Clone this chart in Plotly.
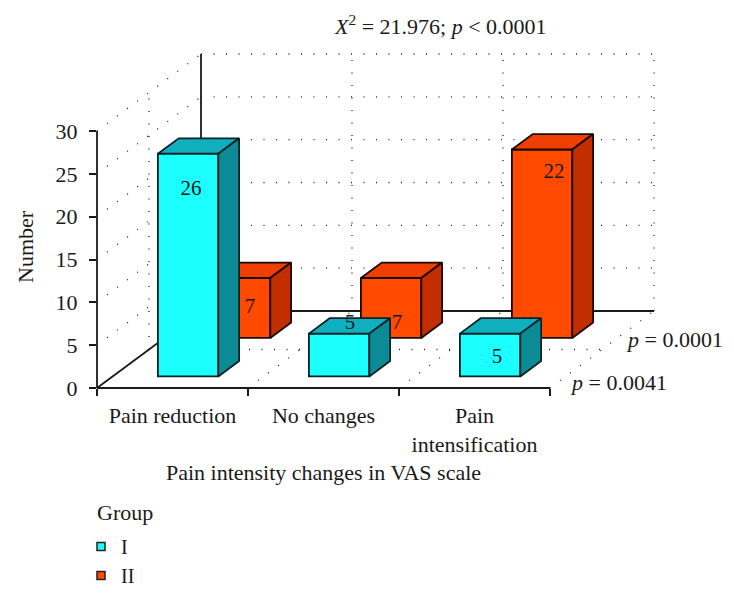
import plotly.graph_objects as go

# ---- data ----
categories = ["Pain reduction", "No changes", "Pain<br>intensification"]
group_names = ["I", "II"]
group_I = [26, 5, 5]
group_II = [7, 7, 22]
y_ticks = [0, 5, 10, 15, 20, 25, 30]
depth_labels = ["<i>p</i> = 0.0041", "<i>p</i> = 0.0001"]
x_title = "Pain intensity changes in VAS scale"
y_title = "Number"
legend_title = "Group"
stat_title = "<i>X</i><sup>2</sup> = 21.976; <i>p</i> &lt; 0.0001"

# ---- page / projection geometry ----
W, H = 734, 594
PX0, PX3 = 97.0, 550.0      # category axis ends in px
PY0, PY30 = 388.0, 131.0    # value axis ends in px
UX = (PX3 - PX0) / 3
UY = (PY0 - PY30) / 30
DX = 104.0 / UX             # whole depth in category units
DY = 77.0 / UY              # whole depth in value units
BAR_W = 0.4
SLOTS = [0.15, 0.65]        # where each group starts in depth
SLOT_D = 0.2
FONT = "Liberation Serif"
FS = 22
INK = "#1a1a1a"
EDGE_W = 1.8

STYLES = [
    dict(front="#1BFFFF", top="#10AFBE", side="#0B8B96", edge="#0c2226"),
    dict(front="#FF4A00", top="#EE3E00", side="#C22E00", edge="#1a0a04"),
]
# label nudges, px from the bottom centre of each front face
NUDGES = [[(3, 187), (11, 53), (7, 19)], [(10, 30), (6, 14), (12, 165)]]

fig = go.Figure()

# invisible carrier that keeps the real category/value axes on the page
fig.add_trace(go.Scatter(x=[0, 3], y=[0, 30], mode="markers", marker=dict(opacity=0),
                         showlegend=False, hoverinfo="skip"))


def line(xs, ys, dotted=True):
    fig.add_trace(go.Scatter(
        x=xs, y=ys, mode="lines", xaxis="x2", yaxis="y2", showlegend=False, hoverinfo="skip",
        line=dict(color="#222222" if dotted else INK, width=1.3 if dotted else 1.8,
                  dash="1px,11.5px" if dotted else "solid"),
    ))


# walls and floor
for v in y_ticks[1:]:
    line([DX, 3 + DX], [DY + v, DY + v])
    line([0, DX], [v, DY + v])
for k in (1, 2, 3):
    line([k + DX, k + DX], [DY, DY + 30])
for k in (1, 2, 3):
    line([k, k + DX], [0, DY])
line([0.5 * DX, 0.5 * DX], [0.5 * DY, 30 + 0.5 * DY])
line([0.5 * DX, 3 + 0.5 * DX], [0.5 * DY, 0.5 * DY])
line([DX, DX], [DY, DY + 30], dotted=False)
line([DX, 3 + DX], [DY, DY], dotted=False)
line([0, DX], [0, DY], dotted=False)
line([0, 3], [0, 0], dotted=False)
line([0, 0], [0, 30], dotted=False)


def polygon(xs, ys, fill, edge, z):
    fig.add_trace(go.Scatter(
        x=xs, y=ys, mode="lines", fill="toself", fillcolor=fill, xaxis="x2", yaxis="y2",
        line=dict(color=edge, width=EDGE_W), showlegend=False, hoverinfo="skip", zorder=z,
    ))


series = [group_I, group_II]
for g in (1, 0):
    st = STYLES[g]
    z = 2 - g
    d0 = SLOTS[g]
    sx0, sy0 = d0 * DX, d0 * DY
    ddx, ddy = SLOT_D * DX, SLOT_D * DY
    fig.add_trace(go.Bar(
        x=[i + 0.5 + sx0 for i in range(3)], y=series[g], base=[sy0] * 3, width=BAR_W,
        marker=dict(color=st["front"], line=dict(color=st["edge"], width=EDGE_W)),
        xaxis="x2", yaxis="y2", showlegend=False, zorder=z, name=group_names[g],
    ))
    for i, v in enumerate(series[g]):
        left = i + 0.5 - BAR_W / 2 + sx0
        right = left + BAR_W
        bot = sy0
        top = sy0 + v
        polygon([left, right, right + ddx, left + ddx, left],
                [top, top, top + ddy, top + ddy, top], st["top"], st["edge"], z)
        polygon([right, right + ddx, right + ddx, right, right],
                [bot, bot + ddy, top + ddy, top, bot], st["side"], st["edge"], z)
    fig.add_trace(go.Scatter(
        x=[i + 0.5 + sx0 + NUDGES[g][i][0] / UX for i in range(3)],
        y=[sy0 + NUDGES[g][i][1] / UY for i in range(3)],
        text=[str(v) for v in series[g]], mode="text", xaxis="x2", yaxis="y2",
        textfont=dict(family=FONT, size=21, color=INK), showlegend=False, hoverinfo="skip", zorder=3,
    ))

# legend entries
for g in (0, 1):
    fig.add_trace(go.Scatter(
        x=[None], y=[None], mode="markers", name=group_names[g], legendgroup=group_names[g],
        xaxis="x2", yaxis="y2",
        marker=dict(symbol="square", size=8, color=STYLES[g]["front"], line=dict(color="#222222", width=1.5)),
    ))

annotations = [
    dict(text=stat_title, x=332 / W, y=1 - 25 / H, xanchor="left"),
    dict(text=depth_labels[0], x=568 / W, y=1 - 382 / H, xanchor="left"),
    dict(text=depth_labels[1], x=624 / W, y=1 - 339 / H, xanchor="left"),
    dict(text=y_title, x=25 / W, y=1 - 247 / H, textangle=-90, xanchor="center"),
    dict(text=legend_title, x=95 / W, y=1 - 512 / H, xanchor="left"),
]
for a in annotations:
    a.update(xref="paper", yref="paper", yanchor="middle", showarrow=False,
             font=dict(family=FONT, size=FS, color=INK))

fig.update_layout(
    width=W, height=H, autosize=False, margin=dict(l=0, r=0, t=0, b=0, autoexpand=False),
    paper_bgcolor="white", plot_bgcolor="rgba(0,0,0,0)", barmode="overlay",
    font=dict(family=FONT, size=FS, color=INK),
    annotations=annotations,
    xaxis=dict(
        domain=[PX0 / W, PX3 / W], range=[0, 3], tickmode="array", tickvals=[0.5, 1.5, 2.5],
        ticktext=categories, ticks="", showline=False, showgrid=False,
        zeroline=False, tickfont=dict(family=FONT, size=FS, color=INK), ticklabelstandoff=12,
        minor=dict(tickmode="array", tickvals=[0, 1, 2, 3], ticks="outside", ticklen=7, tickcolor=INK, tickwidth=1.6, showgrid=False),
        title=dict(text=x_title, standoff=9, font=dict(family=FONT, size=FS, color=INK)),
    ),
    yaxis=dict(
        domain=[1 - PY0 / H, 1 - PY30 / H], range=[0, 30], tickmode="array", tickvals=y_ticks,
        ticks="outside", ticklen=7, tickwidth=1.6, tickcolor=INK, showline=False,
        showgrid=False, zeroline=False, tickfont=dict(family=FONT, size=FS, color=INK), ticklabelstandoff=7,
    ),
    xaxis2=dict(domain=[0, 1], range=[-PX0 / UX, (W - PX0) / UX], visible=False, anchor="y2"),
    yaxis2=dict(domain=[0, 1], range=[(PY0 - H) / UY, PY0 / UY], visible=False, anchor="x2"),
    legend=dict(
        x=96 / W, y=1 - 527 / H, xanchor="left", yanchor="top", indentation=-15, itemwidth=30,
        tracegroupgap=0, bgcolor="rgba(0,0,0,0)", font=dict(family=FONT, size=20, color=INK),
        itemclick=False, itemdoubleclick=False,
    ),
    showlegend=True,
)

fig.write_html("out.html", config={"displayModeBar": False}, post_script="document.body.style.margin='0';")
